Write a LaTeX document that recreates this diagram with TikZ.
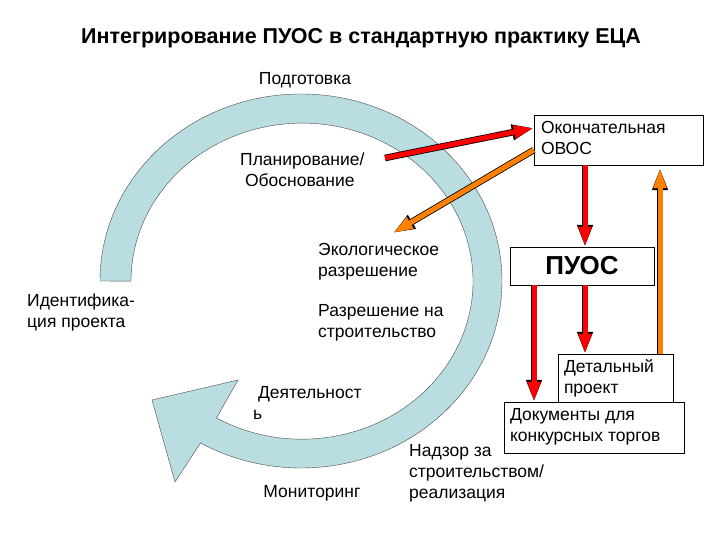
\documentclass[tikz,border=0pt]{standalone}
\usepackage{fontspec}
\setmainfont{Liberation Sans}
\usetikzlibrary{arrows.meta}
\begin{document}
\begin{tikzpicture}[x=1pt,y=1pt,
  txt/.style={font=\fontsize{17.5}{21}\selectfont, align=left, inner sep=0pt},
  box/.style={draw, thin, fill=white, inner sep=0pt},
  fat/.style={line width=5pt, draw=#1,
    -{Triangle[length=20pt,width=12pt,fill=#1]},
    preaction={draw=black, line width=6.6pt, -{Triangle[length=22pt,width=14.5pt]}}},
]
\useasboundingbox (0,0) rectangle (720,540);
% cycle arrow
\fill[fill={rgb,255:red,185;green,221;blue,224}, draw=black!70, thin]
  (100,259) arc[start angle=180, end angle=-120, x radius=201, y radius=187]
  -- (175,58) -- (152,140) -- (238,160) -- (216.5,122)
  arc[start angle=-120, end angle=180, x radius=171, y radius=158] -- cycle;
% texts
\node[font=\fontsize{21.5}{24}\selectfont\bfseries] (title) at (361,502) {Интегрирование ПУОС в стандартную практику ЕЦА};
\node[txt] (prep) at (305,460) {Подготовка};
\node[txt, anchor=west] (plan) at (240,370) {Планирование/\\\ Обоснование};
\node[txt, anchor=west] (eco) at (318,278) {Экологическое\\разрешение};
\node[txt, anchor=west] (ident) at (27,228) {Идентифика-\\ция проекта};
\node[txt, anchor=west] (build) at (318,217) {Разрешение на\\строительство};
\node[txt, anchor=west] (act) at (253,137) {\ Деятельност\\ь};
\node[txt] (mon) at (312,47) {Мониторинг};
\node[txt, anchor=west] (sup) at (409,67) {Надзор за\\строительством/\\реализация};
% boxes
\node[box, minimum width=169pt, minimum height=50pt] (ovos) at (618.5,400) {};
\node[txt, anchor=north west] at ([xshift=7pt,yshift=-6pt]ovos.north west) {Окончательная\\ОВОС};
\node[box, minimum width=144pt, minimum height=38pt, font=\fontsize{26}{28}\selectfont\bfseries] (puos) at (582,274) {ПУОС};
\node[box, minimum width=115pt, minimum height=51pt] (det) at (615.5,160.5) {};
\node[txt, anchor=north west] at ([xshift=6pt,yshift=-6pt]det.north west) {Детальный\\проект};
\node[box, minimum width=180pt, minimum height=51pt] (docs) at (594,112.5) {};
\node[txt, anchor=north west] at ([xshift=6pt,yshift=-6pt]docs.north west) {Документы для\\конкурсных торгов};
% connectors
\coordinate (planE) at (385,382);
\coordinate (ecoN) at (393,307);
\draw[fat=red] (planE) -- ([yshift=12pt]ovos.west);
\draw[fat=orange] ([yshift=-10pt]ovos.west) -- (ecoN);
\draw[fat=red] (ovos.south -| 585,0) -- (puos.north -| 585,0);
\draw[fat=red] (puos.south -| 585,0) -- (det.north -| 585,0);
\draw[fat=red] (puos.south -| 534,0) -- (docs.north -| 534,0);
\draw[fat=orange] (det.north -| 660,0) -- ([yshift=-3pt]ovos.south -| 660,0);
\end{tikzpicture}
\end{document}
